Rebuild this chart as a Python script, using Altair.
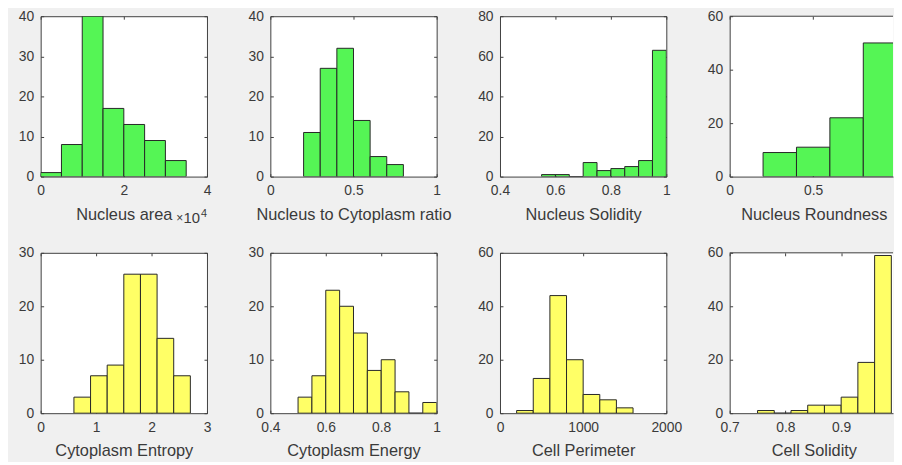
import altair as alt
import pandas as pd

# ---------------- data ----------------
area_start = [0.0, 0.5, 1.0, 1.5, 2.0, 2.5, 3.0]
area_count = [1, 8, 40, 17, 13, 9, 4]

ncr_start = [0.2, 0.3, 0.4, 0.5, 0.6, 0.7]
ncr_count = [11, 27, 32, 14, 5, 3]

nsol_start = [0.55, 0.60, 0.65, 0.70, 0.75, 0.80, 0.85, 0.90, 0.95]
nsol_count = [1, 1, 0, 7, 3, 4, 5, 8, 63]

nround_start = [0.2, 0.4, 0.6, 0.8]
nround_count = [9, 11, 22, 50]

centr_start = [0.6, 0.9, 1.2, 1.5, 1.8, 2.1, 2.4]
centr_count = [3, 7, 9, 26, 26, 14, 7]

cener_start = [0.50, 0.55, 0.60, 0.65, 0.70, 0.75, 0.80, 0.85, 0.90, 0.95]
cener_count = [3, 7, 23, 20, 15, 8, 10, 4, 0, 2]

cper_start = [200, 400, 600, 800, 1000, 1200, 1400]
cper_count = [1, 13, 44, 20, 7, 5, 2]

csol_start = [0.75, 0.78, 0.81, 0.84, 0.87, 0.90, 0.93, 0.96]
csol_count = [1, 0, 1, 3, 3, 6, 19, 59]

# exponent label of the first x axis: "×", "10", "4"
exp_parts = ["×", "10", "4"]

# ---------------- style ----------------
FONT = "Liberation Sans"
GREEN = "#55f555"
YELLOW = "#ffff66"
EDGE = "#262626"
BOX = "#404040"
TXT = "#3a3a3a"
BG = "#f0f0f0"
W = 168
W_LAST = 165
H = 162
TK = 3
TICK_FS = 14
TITLE_FS = 16.5
LABEL = "'' + datum.value"


def exponent_layers(w):
    # (dx from right edge, dy below axis, font size) for each part
    spots = [(24, 46, 12), (7, 47, 15), (0, 41, 11)]
    out = []
    for part, (dx, dy, fs) in zip(exp_parts, spots):
        out.append(alt.Chart(pd.DataFrame({"t": [part]})).mark_text(
            align="right", baseline="alphabetic", fontSize=fs, color=TXT,
            font=FONT).encode(text="t:N", x=alt.value(w - dx),
                              y=alt.value(H + dy)))
    return out


def panel(title, starts, counts, bw, color, xdom, xvals, ydom, yvals,
          w=W, cut=False, exponent=False):
    df = pd.DataFrame({"x0": starts,
                       "x1": [s + bw for s in starts],
                       "n": counts})
    xgrid = [TK, H - 2 * TK, TK, 3000]
    ygrid = [TK, 3000] if cut else [TK, w - 2 * TK, TK, 3000]
    extra = {"titleX": 85} if cut else {}
    xaxis = alt.Axis(values=xvals, labelExpr=LABEL, title=title, grid=True,
                     gridDash=xgrid, gridColor=BOX, gridOpacity=1,
                     ticks=False, domain=cut, domainColor=BOX,
                     labelFlush=False, labelOverlap=False,
                     labelPadding=7, titlePadding=9, **extra)
    yaxis = alt.Axis(values=yvals, labelExpr=LABEL, title=None, grid=True,
                     gridDash=ygrid, gridColor=BOX, gridOpacity=1,
                     ticks=False, domain=cut, domainColor=BOX,
                     labelFlush=False, labelOverlap=False,
                     labelPadding=7)
    bars = alt.Chart(df).mark_bar(fill=color, stroke=EDGE, strokeWidth=1,
                                  clip=True).encode(
        x=alt.X("x0:Q", scale=alt.Scale(domain=xdom, nice=False, zero=False),
                axis=xaxis),
        x2="x1:Q",
        y=alt.Y("n:Q", scale=alt.Scale(domain=ydom, nice=False), axis=yaxis),
        y2=alt.datum(0),
    )
    layers = [bars]
    if exponent:
        layers.extend(exponent_layers(w))
    if cut:
        top = alt.Chart(pd.DataFrame({"k": [0]})).mark_rule(
            color=BOX, strokeWidth=1).encode(
            x=alt.value(0), x2=alt.value(w), y=alt.value(0))
        layers.append(top)
    ch = alt.layer(*layers).properties(width=w, height=H)
    if cut:
        ch = ch.properties(view=alt.ViewBackground(fill="white",
                                                   stroke="transparent"))
    return ch


p1 = panel("Nucleus area", area_start, area_count, 0.5, GREEN,
           [0, 4], [0, 2, 4], [0, 40], [0, 10, 20, 30, 40],
           exponent=True)
p2 = panel("Nucleus to Cytoplasm ratio", ncr_start, ncr_count, 0.1, GREEN,
           [0, 1], [0, 0.5, 1], [0, 40], [0, 10, 20, 30, 40])
p3 = panel("Nucleus Solidity", nsol_start, nsol_count, 0.05, GREEN,
           [0.4, 1], [0.4, 0.6, 0.8, 1], [0, 80], [0, 20, 40, 60, 80])
p4 = panel("Nucleus Roundness", nround_start, nround_count, 0.2, GREEN,
           [0, 0.978], [0, 0.5], [0, 60], [0, 20, 40, 60],
           w=W_LAST, cut=True)
p5 = panel("Cytoplasm Entropy", centr_start, centr_count, 0.3, YELLOW,
           [0, 3], [0, 1, 2, 3], [0, 30], [0, 10, 20, 30])
p6 = panel("Cytoplasm Energy", cener_start, cener_count, 0.05, YELLOW,
           [0.4, 1], [0.4, 0.6, 0.8, 1], [0, 30], [0, 10, 20, 30])
p7 = panel("Cell Perimeter", cper_start, cper_count, 200, YELLOW,
           [0, 2000], [0, 1000, 2000], [0, 60], [0, 20, 40, 60])
p8 = panel("Cell Solidity", csol_start, csol_count, 0.03, YELLOW,
           [0.7, 0.993], [0.7, 0.8, 0.9], [0, 60], [0, 20, 40, 60],
           w=W_LAST, cut=True)

chart = alt.concat(p1, p2, p3, p4, p5, p6, p7, p8, columns=4,
                   spacing={"row": 77, "column": 64},
                   bounds="flush").properties(
    padding={"left": 9, "top": -2, "right": 0, "bottom": 0},
    background=BG,
).configure_view(
    fill="white", stroke=BOX, strokeWidth=1
).configure_axis(
    labelFont=FONT, labelFontSize=TICK_FS, labelColor=TXT,
    titleFont=FONT, titleFontSize=TITLE_FS, titleColor=TXT,
    titleFontWeight="normal",
).configure_text(font=FONT)

chart.save("out.html", embed_options={"renderer": "svg", "actions": False})
